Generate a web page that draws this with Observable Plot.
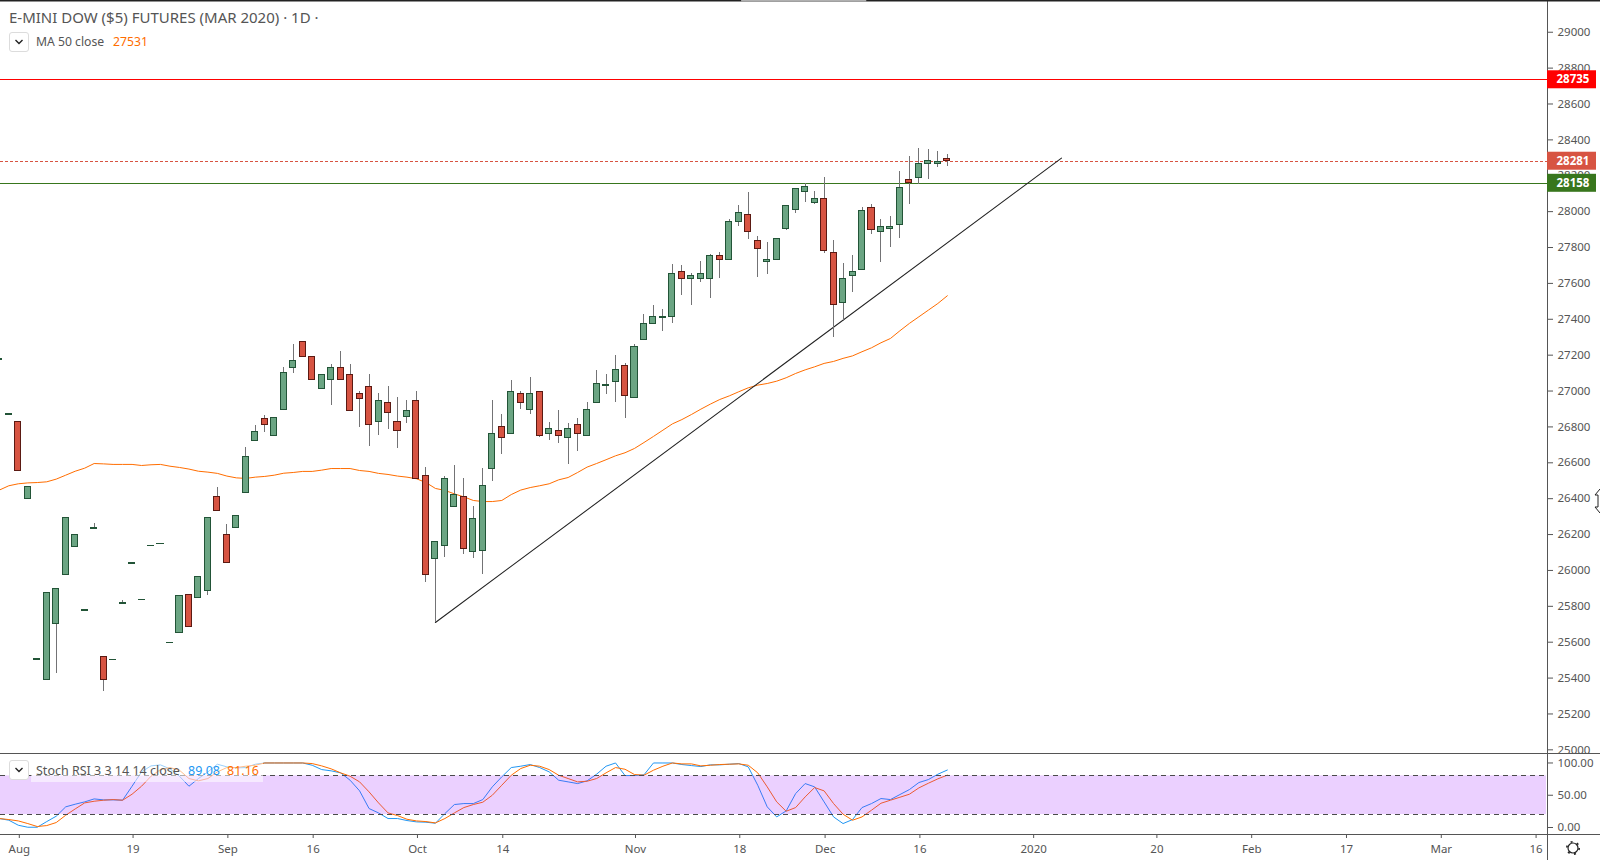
<!DOCTYPE html>
<html>
<head>
<meta charset="utf-8">
<script src="https://cdn.jsdelivr.net/npm/d3@7"></script>
<script src="https://cdn.jsdelivr.net/npm/@observablehq/plot@0.6"></script>
<style>
html,body{margin:0;padding:0;background:#fff;overflow:hidden}
#wrap{position:relative;width:1600px;height:860px;font-family:"Noto Sans",sans-serif;color:#555}
#wrap svg{display:block}
.ov{position:absolute;white-space:nowrap;line-height:1}
.btn{position:absolute;left:8.5px;width:18px;height:18px;border:1px solid #dcdcdc;border-radius:3px;background:#fff}
.btn svg{position:absolute;left:4px;top:6px}
</style>
</head>
<body>
<div id="wrap"></div>
<script>
const opens = [27175,26869,26830,26396,25503,25387,25699,25972,26128,25772,26233,25519,25498,25811,26038,25837,26138,26149,25597,25649,25861,25849,25888,26412,26200,26239,26429,26724,26842,26752,26897,27131,27271,27187,27014,27059,27126,27092,26981,27025,26825,26931,26825,26858,26947,26529,26061,26134,26351,26412,26100,26106,26563,26797,26763,26981,26892,26992,26758,26780,26741,26808,26747,26931,27030,27053,27142,26959,27282,27371,27406,27410,27666,27622,27622,27622,27750,27733,27945,27984,27839,27722,27733,27901,28007,28107,28049,28073,27767,27488,27639,27672,28023,27889,27906,27928,28174,28190,28263,28268,28291];
const closes = [27176,26870,26557,26463,25504,25872,25894,26295,26200,25778,26234,25392,25499,25816,26039,25838,26139,26150,25598,25855,25682,25961,26295,26329,26039,26306,26630,26769,26808,26847,27098,27170,27187,27059,27087,27126,27064,26886,26953,26808,26947,26875,26780,26886,26507,25972,26156,26507,26423,26117,26284,26468,26763,26736,26992,26931,26986,26747,26786,26752,26791,26763,26892,27037,27031,27120,26970,27248,27371,27410,27411,27655,27622,27644,27655,27750,27733,27945,27995,27884,27789,27733,27850,28029,28124,28140,28068,27778,27477,27627,27666,28001,27895,27912,27917,28129,28161,28263,28285,28276,28281];
const highs = [27176,26870,26830,26463,25504,25872,25894,26295,26200,25778,26264,25519,25499,25833,26039,25838,26139,26150,25598,25855,25861,25961,26295,26464,26258,26306,26687,26810,26866,26847,27131,27261,27271,27187,27087,27150,27222,27150,27000,27094,26988,27027,26966,26949,26999,26576,26156,26526,26587,26514,26358,26570,26949,26871,27061,27000,27077,26992,26827,26893,26821,26849,26938,27116,27094,27200,27156,27261,27429,27479,27456,27707,27702,27655,27724,27761,27774,27958,28036,28109,27862,27830,27850,28036,28129,28157,28114,28192,27839,27713,27758,28023,28040,27958,27975,28224,28308,28352,28347,28335,28319];
const lows = [27175,26869,26557,26396,25503,25387,25426,25972,26128,25772,26233,25323,25498,25811,26038,25837,26138,26149,25597,25649,25682,25849,25858,26329,26039,26239,26429,26724,26767,26752,26897,27096,27187,27059,27014,26918,27064,26886,26795,26689,26750,26784,26678,26817,26507,25931,25710,26070,26351,26087,26065,25976,26494,26645,26763,26895,26868,26739,26723,26706,26589,26661,26747,26931,26979,26934,26845,26959,27282,27371,27330,27375,27531,27475,27603,27514,27626,27733,27915,27843,27631,27648,27733,27893,27988,28049,28038,27765,27297,27386,27548,27672,27871,27715,27798,27849,28038,28150,28177,28244,28250];
const ma50 = [26448,26472,26483,26488,26490,26494,26509,26531,26553,26570,26596,26594,26591,26591,26591,26585,26589,26591,26581,26574,26565,26553,26548,26541,26526,26516,26513,26520,26524,26531,26542,26546,26552,26552,26559,26568,26568,26568,26557,26552,26541,26535,26526,26520,26511,26490,26457,26446,26427,26410,26390,26384,26384,26390,26423,26448,26462,26472,26483,26505,26518,26546,26576,26596,26617,26639,26656,26680,26713,26747,26782,26817,26841,26869,26899,26927,26953,26973,26996,27018,27033,27042,27055,27074,27098,27118,27135,27154,27165,27182,27196,27219,27241,27269,27293,27336,27377,27414,27451,27488,27531];
const stochK = [13.9,11.3,3.5,0.4,0.4,9.2,17.5,32,36.1,39.7,44.3,42.8,42.8,42.3,64,86.2,95.5,97,90.9,79.5,64,75.9,86.2,98.1,94,92.4,92.9,98.1,100,100,100,100,100,96.5,89.8,87.8,84.7,73.3,56.8,29.4,22.6,13.9,13.9,10.8,8.7,8.2,6.6,21.6,35.6,37.1,37.1,43.3,63,78.5,92.9,95,97.6,92.9,86.2,73.3,70.7,68.1,72.3,82.6,95,100,80.5,80.5,81.6,100,100,100,97.6,96,94.5,97.1,97.1,98.1,99.1,94,65.5,32,16.4,25.7,52.6,68.1,63,39.7,16.4,6.1,12.3,30.9,37.1,44.9,43.3,51.1,58.8,69.7,74.3,82.6,89.08];
const stochD = [13.9,12.3,10.2,6.1,1.5,3,7.7,19,28.8,38.1,40.7,42.3,43.3,42.3,51.6,64,79.5,89.8,92.9,88.8,75.9,72.3,75.9,86.2,92.9,92.9,95,96.5,100,100,100,100,100,99.1,95.5,90.9,84.7,79.5,70.7,55.2,38.1,22.6,18.5,12.8,10.2,9.2,7.1,13.9,22.6,30.9,35.6,39.2,50,65.5,81,91.4,96.5,95,89.8,81,75.9,70.7,71.7,75.9,84.7,92.9,90.3,82.1,81,88.8,95,100,98.6,98.6,95.5,96.5,97.6,98.1,98.6,96.5,84.7,63,39.7,25.2,30.9,47.4,61.9,56.8,37.1,20.6,11.3,16.4,26.8,37.6,42.3,46.9,51.6,61.4,68.6,75.4,81.16];
const trendIdx = [45, 111.04];
const trendVal = [25710, 28298];
const priceTicks = [25000,25200,25400,25600,25800,26000,26200,26400,26600,26800,27000,27200,27400,27600,27800,28000,28200,28400,28600,28800,29000];
const levelVals = [28735, 28281, 28158];
const levelFills = ["#ff0000", "#d75442", "#38761d"];
const stochTicks = [0, 50, 100];
const bandVals = [20, 80];
const timeIdx = [1,13,23,32,43,52,66,77,86,96,108,121,131,141,151,161];
const timeLabels = ["Aug","19","Sep","16","Oct","14","Nov","18","Dec","16","2020","20","Feb","17","Mar","16"];
const topGap = [77.3, 90.5];

const firstIdx = -1;
const rows = opens.map((o,k)=>({i:k+firstIdx,o,c:closes[k],h:highs[k],l:lows[k],ma:ma50[k],sk:stochK[k],sd:stochD[k]}));
const trend = trendIdx.map((x,k)=>({x,y:trendVal[k]}));
const levels = levelVals.map((v,k)=>({v,fill:levelFills[k]}));
const up = d => d.c >= d.o;
const xDomain = [-0.8787, 162.31];
const pDomain = [24979.6, 29176.9];
const font = '"Noto Sans",sans-serif';
const ink = "#555";
const wrap = document.getElementById("wrap");

const main = Plot.plot({
  width:1600, height:753, marginTop:0, marginBottom:0, marginLeft:0, marginRight:53,
  style:{fontFamily:font, fontSize:"11.5px", color:ink, background:"#fff"},
  x:{domain:xDomain, axis:null},
  y:{domain:pDomain, axis:null},
  marks:[
    Plot.axisY({anchor:"right", ticks:priceTicks, tickFormat:d=>String(d), tickSize:5, tickPadding:5, label:null, stroke:ink, fill:ink}),
    Plot.ruleY([levelVals[0]],{stroke:levelFills[0], strokeWidth:1, shapeRendering:"crispEdges"}),
    Plot.ruleY([levelVals[1]],{stroke:levelFills[1], strokeWidth:1, strokeDasharray:"3 2", shapeRendering:"crispEdges"}),
    Plot.ruleY([levelVals[2]],{stroke:levelFills[2], strokeWidth:1, shapeRendering:"crispEdges"}),
    Plot.line(rows,{x:"i", y:"ma", stroke:"#ff6d00", strokeWidth:1, clip:true}),
    Plot.line(trend,{x:"x", y:"y", stroke:"#222", strokeWidth:1.05}),
    Plot.ruleX(rows,{x:"i", y1:"l", y2:"h", stroke:"#737375", strokeWidth:1, clip:true, shapeRendering:"crispEdges"}),
    Plot.rect(rows,{x1:d=>d.i-0.32, x2:d=>d.i+0.32, y1:"o", y2:"c", fill:d=>up(d)?"#6ba583":"#d75442", stroke:d=>up(d)?"#225437":"#5b1a13", strokeWidth:1, clip:true, shapeRendering:"crispEdges"}),
    Plot.ruleX([xDomain[1]],{stroke:ink, strokeWidth:1}),
    Plot.ruleY([pDomain[1]],{stroke:"#222", strokeWidth:2, insetRight:-53}),
    Plot.ruleY([pDomain[1]],{x1:topGap[0], x2:topGap[1], stroke:"#b0b0b0", strokeWidth:2}),
    Plot.rect(levels,{x1:xDomain[1], x2:xDomain[1], y1:"v", y2:"v", fill:"fill", insetRight:-49, insetTop:-9, insetBottom:-9}),
    Plot.text(levels,{x:xDomain[1], y:"v", text:d=>String(d.v), fill:"#fff", fontWeight:"bold", textAnchor:"start", dx:9})
  ]
});
wrap.appendChild(main);

const sDomain = [-10.85, 114.7];
const lower = Plot.plot({
  width:1600, height:107, marginTop:0, marginBottom:26, marginLeft:0, marginRight:53,
  style:{fontFamily:font, fontSize:"11.5px", color:ink, background:"#fff"},
  x:{domain:xDomain, axis:null},
  y:{domain:sDomain, axis:null},
  marks:[
    Plot.axisY({anchor:"right", ticks:stochTicks, tickFormat:d=>d.toFixed(2), tickSize:5, tickPadding:5, label:null, stroke:ink, fill:ink}),
    Plot.axisX({anchor:"bottom", ticks:timeIdx, tickFormat:d=>timeLabels[timeIdx.indexOf(d)], tickSize:4, tickPadding:6, label:null, stroke:ink, fill:ink, dx:1}),
    Plot.line(rows,{x:"i", y:"sk", stroke:"#2196f3", strokeWidth:1, clip:true}),
    Plot.line(rows,{x:"i", y:"sd", stroke:"#ff6d00", strokeWidth:1, clip:true}),
    Plot.rect([bandVals],{x1:xDomain[0], x2:xDomain[1], y1:d=>d[0], y2:d=>d[1], fill:"#9915ff", fillOpacity:0.2, insetRight:1}),
    Plot.ruleY(bandVals,{stroke:"#4a4a4a", strokeWidth:1, strokeDasharray:"5 4", shapeRendering:"crispEdges"}),
    Plot.ruleY([sDomain[1]],{stroke:ink, strokeWidth:1, insetRight:-53}),
    Plot.ruleY([sDomain[0]],{stroke:ink, strokeWidth:1, insetRight:-53}),
    Plot.ruleX([xDomain[1]],{stroke:ink, strokeWidth:1, insetBottom:-26})
  ]
});
wrap.appendChild(lower);

const chevron = '<svg width="10" height="6" viewBox="0 0 10 6"><path d="M1.5 1 L5 4.5 L8.5 1" fill="none" stroke="#222" stroke-width="1.4"/></svg>';
wrap.insertAdjacentHTML("beforeend", `
<div class="ov" style="left:9px;top:10px;font-size:15px">E-MINI DOW ($5) FUTURES (MAR 2020) · 1D ·</div>
<div class="btn" style="top:32px">${chevron}</div>
<div class="ov" style="left:36px;top:35.5px;font-size:12.2px">MA 50 close</div>
<div class="ov" style="left:113px;top:35.5px;font-size:12.2px;color:#ff6d00">27531</div>
<div class="ov" style="left:31px;top:759px;width:232px;height:23px;background:rgba(255,255,255,.55)"></div>
<div class="btn" style="top:760px">${chevron}</div>
<div class="ov" style="left:36px;top:764.5px;font-size:12.5px">Stoch RSI 3 3 14 14 close</div>
<div class="ov" style="left:188px;top:764.5px;font-size:12.5px;color:#2196f3">89.08</div>
<div class="ov" style="left:227px;top:764.5px;font-size:12.5px;color:#ff6d00">81.16</div>
<svg class="ov" style="left:1565px;top:840px" width="16" height="16" viewBox="0 0 16 16"><circle cx="8" cy="8" r="5" fill="none" stroke="#222" stroke-width="1.2"/><circle cx="8" cy="8" r="6.2" fill="none" stroke="#222" stroke-width="1.6" stroke-dasharray="2 4.5"/></svg>
<svg class="ov" style="left:1592px;top:488px" width="8" height="26" viewBox="0 0 8 26"><path d="M8 1 L3 7 L6 7 L6 19 L3 19 L8 25" fill="#fff" stroke="#222" stroke-width="1"/></svg>
`);
</script>
</body>
</html>
